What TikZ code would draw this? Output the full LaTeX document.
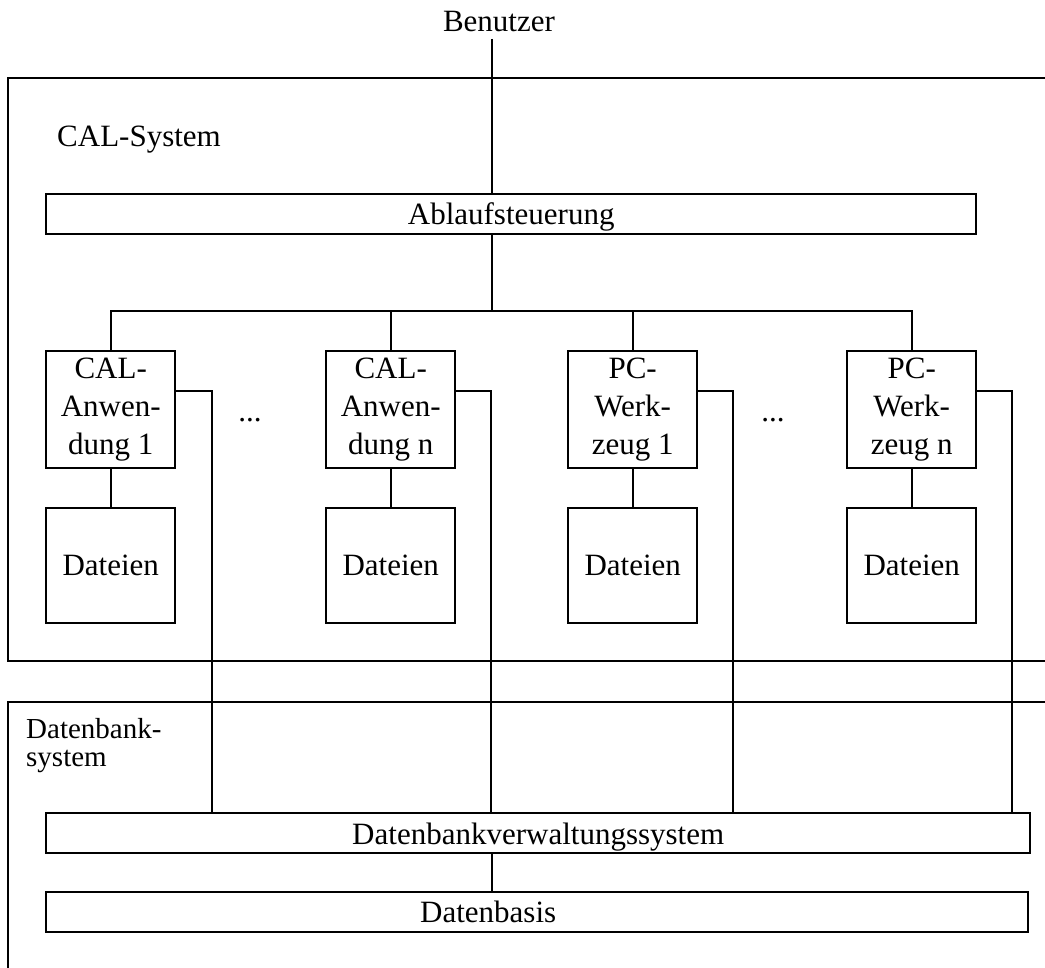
\documentclass[tikz,border=0pt]{standalone}
\usepackage{fontspec}
\setmainfont{Liberation Serif}
\usetikzlibrary{positioning, calc}

\tikzset{
  modbox/.style={draw, minimum width=129pt, minimum height=117pt, inner sep=0pt, align=center},
  filebox/.style={modbox, minimum height=115pt},
  barbox/.style={draw, minimum height=40pt, inner sep=0pt, text height=26pt, text depth=6pt},
}

\begin{document}
\begin{tikzpicture}[x=1pt, y=-1pt, line width=2.4pt, font=\fontsize{31}{38}\selectfont]
  \useasboundingbox (0,0) rectangle (1045,968);

  % Outer frames (open to the right)
  \draw (1060,78) -- (8,78) -- (8,661) -- (1060,661);
  \draw (1060,702) -- (8,702) -- (8,985);

  % Labels
  \node[anchor=base, inner sep=0pt] (usr) at (499,32) {Benutzer};
  \node[anchor=base west, inner sep=0pt] (calsys) at (56,147) {CAL-System};
  \node[anchor=north west, inner sep=0pt, align=left, font=\fontsize{29}{28}\selectfont] (dbsys) at (25,717) {Datenbank-\\system};

  % Ablaufsteuerung
  \node[barbox, minimum width=930pt, anchor=north west] (abl) at (45,193) {Ablaufsteuerung};

  % Anwendungen and Werkzeuge
  \node[modbox, anchor=north west] (cal1) at (45,350) {CAL-\\Anwen-\\dung 1};
  \node[modbox, anchor=north west] (caln) at (325,350) {CAL-\\Anwen-\\dung n};
  \node[modbox, anchor=north west] (pc1) at (567,350) {PC-\\Werk-\\zeug 1};
  \node[modbox, anchor=north west] (pcn) at (846,350) {PC-\\Werk-\\zeug n};
  \node[anchor=base, inner sep=0pt] (dotsa) at (250,422) {...};
  \node[anchor=base, inner sep=0pt] (dotsb) at (773,422) {...};

  % Dateien
  \node[filebox, anchor=north west] (dcal1) at (45,507) {Dateien};
  \node[filebox, anchor=north west] (dcaln) at (325,507) {Dateien};
  \node[filebox, anchor=north west] (dpc1) at (567,507) {Dateien};
  \node[filebox, anchor=north west] (dpcn) at (846,507) {Dateien};

  % Datenbanksystem
  \node[barbox, minimum width=984pt, anchor=north west, text height=27pt, text depth=5pt] (dbvs) at (45,812) {Datenbankverwaltungssystem};
  \node[barbox, minimum width=982pt, anchor=north west] (dbb) at (45,891) {Datenbasis\hspace*{98pt}};

  % Connectors
  \coordinate (bus) at (492,311);
  \coordinate (usrend) at (492,39);
  \draw (usrend) -- (usrend |- abl.north);
  \draw (bus |- abl.south) -- (bus);
  \draw (cal1.north) |- (bus) -| (pcn.north);
  \draw (caln.north) -- (caln.north |- bus);
  \draw (pc1.north) -- (pc1.north |- bus);
  \foreach \n in {cal1, caln, pc1, pcn}
    \draw (\n.south) -- (d\n.north);
  \foreach \n/\x in {cal1/212, caln/491, pc1/733, pcn/1012}
    \draw ([yshift=18.5pt]\n.east) -| (dbvs.north -| \x,0);
  \draw (dbvs.south -| bus) -- (dbb.north -| bus);
\end{tikzpicture}
\end{document}
